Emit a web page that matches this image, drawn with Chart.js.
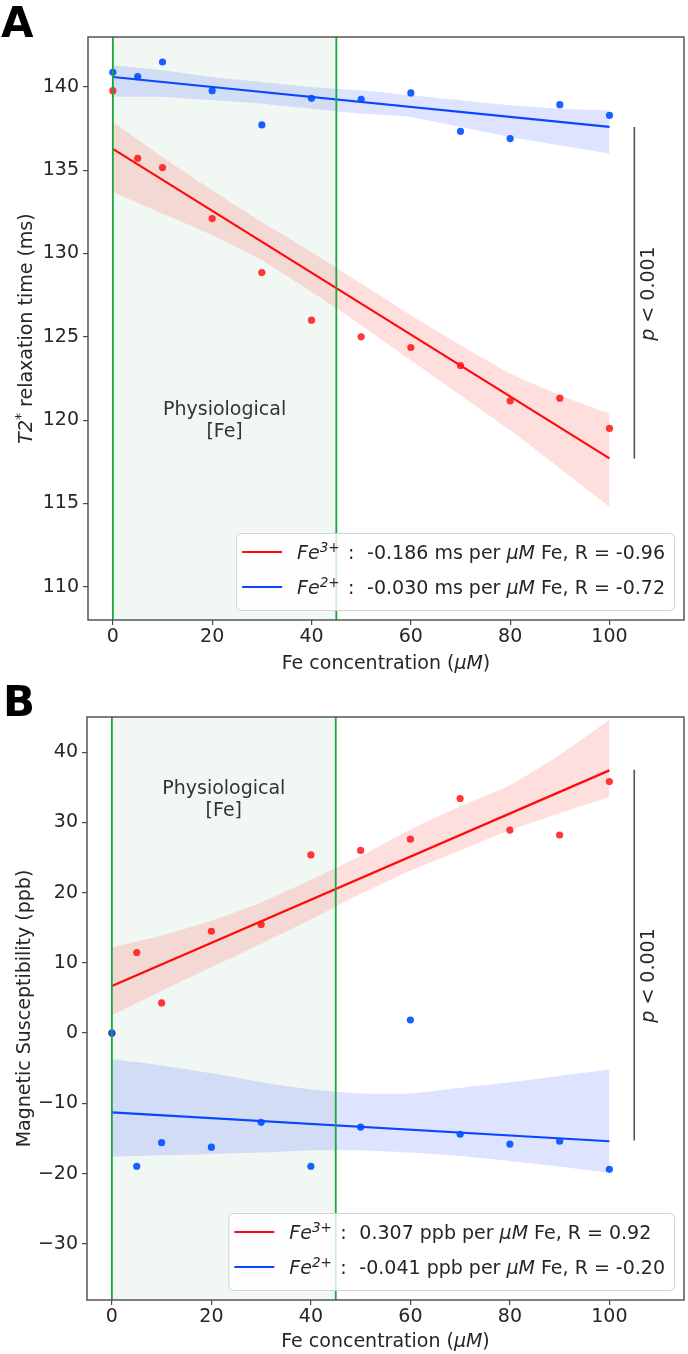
<!DOCTYPE html>
<html><head><meta charset="utf-8">
<script src="https://cdn.jsdelivr.net/npm/chart.js@4.4.1/dist/chart.umd.min.js"></script>
<style>
html,body{margin:0;padding:0;background:#fff;}
body{width:688px;height:1354px;position:relative;overflow:hidden;}
canvas{position:absolute;left:0;}
#cA{top:0;} #cB{top:680px;}
</style></head><body>
<canvas id="cA" width="688" height="680"></canvas>
<canvas id="cB" width="688" height="674"></canvas>
<script>
// ---------- DATA ----------
const concentrations = [0, 5, 10, 20, 30, 40, 50, 60, 70, 80, 90, 100];
const xTicks = [0, 20, 40, 60, 80, 100];
const physioRange = [0, 45];

// Panel A: T2* relaxation time (ms)
const t2Fe3 = [139.78, 135.72, 135.16, 132.1, 128.86, 126.0, 125.0, 124.36, 123.28, 121.16, 121.32, 119.5];
const t2Fe2 = [140.88, 140.62, 141.5, 139.78, 137.72, 139.32, 139.26, 139.64, 137.34, 136.9, 138.94, 138.3];
const fitX = [0, 100];
const t2Fe3Fit = [136.28, 117.7];
const t2Fe2Fit = [140.6, 137.6];
const bandX = [0, 10, 20, 30, 40, 50, 60, 70, 80, 90, 100];
const t2Fe3Upper = [137.9, 135.8, 133.8, 131.9, 130.1, 128.2, 126.3, 124.5, 122.8, 121.5, 120.4];
const t2Fe3Lower = [133.7, 132.4, 131.1, 129.6, 127.7, 125.7, 123.6, 121.5, 119.4, 117.1, 114.8];
const t2Fe2Upper = [141.3, 141.0, 140.6, 140.3, 140.0, 139.8, 139.5, 139.2, 138.9, 138.7, 138.6];
const t2Fe2Lower = [139.4, 139.4, 139.2, 139.0, 138.7, 138.4, 138.2, 137.6, 137.0, 136.5, 136.0];
const t2Ticks = [110, 115, 120, 125, 130, 135, 140];
const t2PLine = [137.6, 117.7];

// Panel B: Magnetic susceptibility (ppb)
const qsmFe3 = [0, 11.47, 4.29, 14.5, 15.47, 25.37, 26.0, 27.6, 33.4, 28.9, 28.2, 35.8];
const qsmFe2 = [0, -18.96, -15.6, -16.24, -12.7, -18.96, -13.4, 1.86, -14.4, -15.8, -15.4, -19.4];
const qsmFe3Fit = [6.7, 37.4];
const qsmFe2Fit = [-11.3, -15.4];
const qsmFe3Upper = [12.2, 13.9, 16.0, 18.6, 21.8, 25.2, 29.0, 32.3, 35.3, 39.6, 44.6];
const qsmFe3Lower = [2.5, 6.0, 9.4, 12.7, 16.2, 19.8, 23.1, 26.0, 28.9, 31.3, 33.6];
const qsmFe2Upper = [-3.7, -4.6, -5.7, -7.0, -8.0, -8.6, -8.6, -7.8, -7.0, -6.1, -5.2];
const qsmFe2Lower = [-17.6, -17.4, -17.2, -17.0, -16.7, -16.7, -17.0, -17.5, -18.2, -19.0, -19.9];
const qsmTicks = [-30, -20, -10, 0, 10, 20, 30, 40];
const qsmPLine = [37.5, -15.3];
const pLineX = 105;

const legendA = [
  ['3+', '-0.186 ms per ', ' Fe, R = -0.96'],
  ['2+', '-0.030 ms per ', ' Fe, R = -0.72']
];
const legendB = [
  ['3+', '0.307 ppb per ', ' Fe, R = 0.92'],
  ['2+', '-0.041 ppb per ', ' Fe, R = -0.20']
];

// ---------- STYLE ----------
const FAM = "'DejaVu Sans', sans-serif";
const TXT = '#262626';
const RED = '#ff0a0a', BLUE = '#0846ff';
const RED_PT = 'rgba(255,20,20,0.85)', BLUE_PT = 'rgba(0,80,255,0.9)';
const RED_BAND = 'rgba(255,0,0,0.13)', BLUE_BAND = 'rgba(0,40,255,0.13)';
const fnt = (s, it, b) => `${it ? 'italic ' : ''}${b ? 'bold ' : ''}${s}px ${FAM}`;
const pts = (xs, ys) => xs.map((x, i) => ({x, y: ys[i]}));

function drawRich(ctx, parts, x, y, align) {
  let total = 0;
  const ws = parts.map(p => { ctx.font = p.font; const w = ctx.measureText(p.t).width; total += w + (p.gap || 0); return w; });
  let cx = align === 'center' ? x - total / 2 : x;
  parts.forEach((p, i) => { ctx.font = p.font; ctx.fillText(p.t, cx, y + (p.dy || 0)); cx += ws[i] + (p.gap || 0); });
  return total;
}

const decor = {
  id: 'decor',
  beforeDatasetsDraw(chart, args, o) {
    const {ctx, chartArea: a, scales: {x, y}} = chart;
    const x0 = x.getPixelForValue(physioRange[0]), x1 = x.getPixelForValue(physioRange[1]);
    ctx.save();
    ctx.fillStyle = 'rgba(0,130,50,0.055)';
    ctx.fillRect(x0, a.top, x1 - x0, a.bottom - a.top);
    ctx.fillStyle = '#333';
    ctx.font = fnt(19);
    ctx.textAlign = 'center';
    ctx.textBaseline = 'alphabetic';
    const cx = x.getPixelForValue((physioRange[0] + physioRange[1]) / 2);
    const py = y.getPixelForValue(o.physioY);
    ctx.fillText('Physiological', cx, py);
    ctx.fillText('[Fe]', cx, py + 22);
    ctx.restore();
  },
  afterDatasetsDraw(chart, args, o) {
    const {ctx, chartArea: a, scales: {x, y}} = chart;
    ctx.save();
    // green boundary lines
    ctx.strokeStyle = '#16a83a'; ctx.lineWidth = 1.8;
    for (const v of physioRange) {
      const px = x.getPixelForValue(v);
      ctx.beginPath(); ctx.moveTo(px, a.top); ctx.lineTo(px, a.bottom); ctx.stroke();
    }
    // p text
    ctx.fillStyle = TXT;
    ctx.textBaseline = 'middle';
    const px = x.getPixelForValue(pLineX) + 15, py = y.getPixelForValue(o.pTextY);
    ctx.translate(px, py); ctx.rotate(-Math.PI / 2);
    drawRich(ctx, [{t: 'p', font: fnt(19, true)}, {t: ' < 0.001', font: fnt(19)}], 0, 0, 'center');
    ctx.setTransform(1, 0, 0, 1, 0, 0);
    // legend
    const rows = o.legend;
    let maxW = 0;
    rows.forEach(r => {
      let w = 0;
      ctx.font = fnt(19); w += ctx.measureText(r[1]).width + ctx.measureText(r[2]).width;
      ctx.font = fnt(19, true); w += ctx.measureText('μM').width;
      maxW = Math.max(maxW, w);
    });
    const boxW = 6 + 40 + 15 + 70 + maxW + 9, boxH = 77;
    const bx = a.right - 10 - boxW, by = a.bottom - 10 - boxH;
    ctx.beginPath();
    ctx.roundRect(bx + 0.5, by + 0.5, boxW, boxH, 4);
    ctx.fillStyle = 'rgba(255,255,255,0.8)'; ctx.fill();
    ctx.strokeStyle = '#d4d4d4'; ctx.lineWidth = 1; ctx.stroke();
    ctx.textBaseline = 'alphabetic';
    rows.forEach((r, i) => {
      const base = by + 26 + i * 35;
      ctx.strokeStyle = i === 0 ? RED : BLUE; ctx.lineWidth = 2.2;
      ctx.beginPath(); ctx.moveTo(bx + 6, base - 7); ctx.lineTo(bx + 46, base - 7); ctx.stroke();
      ctx.fillStyle = TXT;
      const tx = bx + 61;
      drawRich(ctx, [{t: 'Fe', font: fnt(19, true)}, {t: r[0], font: fnt(13.5, true), dy: -7.5}], tx, base);
      ctx.font = fnt(19); ctx.fillText(':', tx + 51, base);
      drawRich(ctx, [{t: r[1], font: fnt(19)}, {t: 'μM', font: fnt(19, true)}, {t: r[2], font: fnt(19)}], tx + 70, base);
    });
    ctx.restore();
  },
  afterDraw(chart, args, o) {
    const {ctx, chartArea: a} = chart;
    ctx.save();
    ctx.strokeStyle = '#4a4a4a'; ctx.lineWidth = 1.4;
    ctx.strokeRect(a.left, a.top, a.right - a.left, a.bottom - a.top);
    ctx.fillStyle = TXT;
    ctx.textBaseline = 'alphabetic';
    // x title
    drawRich(ctx, [{t: 'Fe concentration (', font: fnt(19)}, {t: 'μM', font: fnt(19, true)}, {t: ')', font: fnt(19)}],
      (a.left + a.right) / 2, o.xTitleBase, 'center');
    // y title
    ctx.translate(o.yTitleBase, (a.top + a.bottom) / 2); ctx.rotate(-Math.PI / 2);
    drawRich(ctx, o.yTitle, 0, 0, 'center');
    ctx.setTransform(1, 0, 0, 1, 0, 0);
    // panel letter
    ctx.fillStyle = '#000';
    ctx.font = fnt(42, false, true);
    ctx.textAlign = 'left';
    ctx.fillText(o.letter, o.letterX, o.letterBase);
    ctx.restore();
  }
};

function scales(yMin, yMax, yTicks, yWidth, xHeight) {
  const tickFont = {family: 'DejaVu Sans', size: 19};
  const grid = {display: true, drawOnChartArea: false, drawTicks: true, tickLength: 5, color: '#4a4a4a', lineWidth: 1.2};
  return {
    x: {
      type: 'linear', min: -5, max: 115,
      afterBuildTicks: s => { s.ticks = xTicks.map(v => ({value: v})); },
      afterFit: s => { s.height = xHeight; },
      grid, border: {display: false},
      ticks: {font: tickFont, color: TXT, padding: 1, maxRotation: 0, autoSkip: false}
    },
    y: {
      type: 'linear', min: yMin, max: yMax,
      afterBuildTicks: s => { s.ticks = yTicks.map(v => ({value: v})); },
      afterFit: s => { s.width = yWidth; },
      grid, border: {display: false},
      ticks: {font: tickFont, color: TXT, padding: 4, autoSkip: false,
        callback: v => v < 0 ? '\u2212' + Math.abs(v) : String(v)}
    }
  };
}

function datasets(fe3, fe2, fe3Fit, fe2Fit, fe3U, fe3L, fe2U, fe2L, pLine) {
  const band = (d, fill, color) => ({type: 'line', data: d, borderColor: 'rgba(0,0,0,0)', borderWidth: 1,
    pointRadius: 0, fill: fill, backgroundColor: color, tension: 0.15});
  return [
    {type: 'scatter', data: pts(concentrations, fe2), backgroundColor: BLUE_PT, borderWidth: 0, pointRadius: 3.6},
    {type: 'scatter', data: pts(concentrations, fe3), backgroundColor: RED_PT, borderWidth: 0, pointRadius: 3.6},
    {type: 'line', data: pts(fitX, fe2Fit), borderColor: BLUE, borderWidth: 2.2, pointRadius: 0, fill: false},
    {type: 'line', data: pts(fitX, fe3Fit), borderColor: RED, borderWidth: 2.2, pointRadius: 0, fill: false},
    {type: 'line', data: pts([pLineX, pLineX], pLine), borderColor: '#555', borderWidth: 1.6, pointRadius: 0, fill: false},
    band(pts(bandX, fe2U), '+1', BLUE_BAND),
    band(pts(bandX, fe2L), false, 'rgba(0,0,0,0)'),
    band(pts(bandX, fe3U), '+1', RED_BAND),
    band(pts(bandX, fe3L), false, 'rgba(0,0,0,0)')
  ];
}

Chart.defaults.font.family = FAM;

new Chart(document.getElementById('cA'), {
  type: 'scatter',
  data: {datasets: datasets(t2Fe3, t2Fe2, t2Fe3Fit, t2Fe2Fit, t2Fe3Upper, t2Fe3Lower, t2Fe2Upper, t2Fe2Lower, t2PLine)},
  options: {
    responsive: false, animation: false, devicePixelRatio: 1,
    layout: {padding: {left: 0, right: 2, top: 37, bottom: 0}},
    scales: scales(108, 143, t2Ticks, 88, 60),
    plugins: {
      legend: {display: false}, tooltip: {enabled: false},
      decor: {
        physioY: 120.32, pTextY: 127.6, legend: legendA,
        xTitleBase: 669, yTitleBase: 32,
        yTitle: [{t: 'T2', font: fnt(19, true)}, {t: '*', font: fnt(14), dy: -7}, {t: ' relaxation time (ms)', font: fnt(19)}],
        letter: 'A', letterX: 1, letterBase: 37
      }
    }
  },
  plugins: [decor]
});

new Chart(document.getElementById('cB'), {
  type: 'scatter',
  data: {datasets: datasets(qsmFe3, qsmFe2, qsmFe3Fit, qsmFe2Fit, qsmFe3Upper, qsmFe3Lower, qsmFe2Upper, qsmFe2Lower, qsmPLine)},
  options: {
    responsive: false, animation: false, devicePixelRatio: 1,
    layout: {padding: {left: 0, right: 3, top: 37, bottom: 0}},
    scales: scales(-38, 45, qsmTicks, 87, 54),
    plugins: {
      legend: {display: false}, tooltip: {enabled: false},
      decor: {
        physioY: 34.1, pTextY: 8.2, legend: legendB,
        xTitleBase: 667, yTitleBase: 30,
        yTitle: [{t: 'Magnetic Susceptibility (ppb)', font: fnt(19)}],
        letter: 'B', letterX: 3, letterBase: 36
      }
    }
  },
  plugins: [decor]
});
</script>
</body></html>
